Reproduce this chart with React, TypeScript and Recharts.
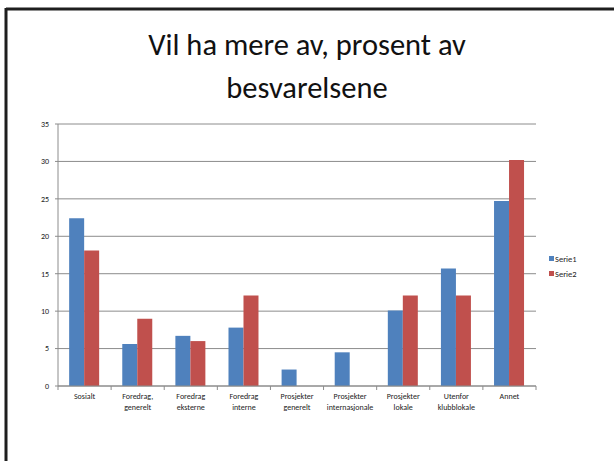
import React from 'react';
import { BarChart, Bar, XAxis, YAxis, CartesianGrid, Legend } from 'recharts';

const categories = [
  'Sosialt',
  'Foredrag, generelt',
  'Foredrag eksterne',
  'Foredrag interne',
  'Prosjekter generelt',
  'Prosjekter internasjonale',
  'Prosjekter lokale',
  'Utenfor klubblokale',
  'Annet',
];
const serie1 = [22.4, 5.6, 6.7, 7.8, 2.2, 4.5, 10.1, 15.7, 24.7];
const serie2 = [18.1, 9.0, 6.0, 12.1, 0, 0, 12.1, 12.1, 30.2];
const yTicks = [0, 5, 10, 15, 20, 25, 30, 35];

const data = categories.map((name, i) => ({ name, Serie1: serie1[i], Serie2: serie2[i] }));

const FONT = 'Carlito, Calibri, Lato, sans-serif';
const GRID = '#8c8c8c';
const PLOT_LEFT = 58;
const PLOT_RIGHT = 536;
const BAND = (PLOT_RIGHT - PLOT_LEFT) / categories.length;

const CategoryTick: React.FC<any> = ({ x, y, payload, index }) => {
  const label: string = payload.value;
  const cut = label.indexOf(' ');
  const lines = cut < 0 ? [label] : [label.slice(0, cut), label.slice(cut + 1)];
  const left = x - BAND / 2;
  return (
    <g>
      <line x1={left} y1={y} x2={left} y2={y + 4} stroke={GRID} />
      {index === categories.length - 1 && (
        <line x1={x + BAND / 2} y1={y} x2={x + BAND / 2} y2={y + 4} stroke={GRID} />
      )}
      {lines.map((ln, i) => (
        <text key={i} x={x} y={y + 12.5 + i * 11} textAnchor="middle" fontSize={8} fill="#222" fontFamily={FONT}>
          {ln}
        </text>
      ))}
    </g>
  );
};

const LegendBox: React.FC<any> = ({ payload }) => (
  <div style={{ fontFamily: FONT, fontSize: 8.5, color: '#222' }}>
    {(payload || []).map((p: any) => (
      <div key={p.value} style={{ display: 'flex', alignItems: 'center', height: 15 }}>
        <span style={{ display: 'inline-block', width: 5, height: 5, background: p.color, marginRight: 1 }} />
        {p.value}
      </div>
    ))}
  </div>
);

export default function App() {
  return (
    <div style={{ position: 'fixed', left: 0, top: 0, width: 614, height: 461, overflow: 'hidden', background: '#fff' }}>
      <div style={{ position: 'absolute', left: 0, top: 0 }}>
        <BarChart
          width={614}
          height={461}
          data={data}
          margin={{ top: 124, right: 614 - PLOT_RIGHT, bottom: 45, left: 0 }}
          barGap={0}
          barCategoryGap="21%"
        >
          <CartesianGrid vertical={false} stroke={GRID} />
          <XAxis
            dataKey="name"
            height={30}
            interval={0}
            tickLine={false}
            tickSize={0}
            tickMargin={0}
            axisLine={{ stroke: GRID }}
            tick={<CategoryTick />}
          />
          <YAxis
            width={PLOT_LEFT}
            domain={[0, 35]}
            ticks={yTicks}
            interval={0}
            tickSize={3}
            tickMargin={6}
            axisLine={{ stroke: GRID }}
            tickLine={{ stroke: GRID }}
            tick={{ fontSize: 8, fill: '#222', fontFamily: FONT }}
          />
          <Legend
            layout="vertical"
            align="center"
            verticalAlign="middle"
            wrapperStyle={{ left: 549, top: 251, width: 40 }}
            content={<LegendBox />}
          />
          <Bar dataKey="Serie1" fill="#4F81BD" isAnimationActive={false} />
          <Bar dataKey="Serie2" fill="#C0504D" isAnimationActive={false} />
        </BarChart>
      </div>
      <svg width={614} height={461} style={{ position: 'absolute', left: 0, top: 0, pointerEvents: 'none' }}>
        <line x1={6} y1={9} x2={614} y2={9} stroke="#1e1e1e" strokeWidth={3} />
        <line x1={6} y1={8} x2={6} y2={461} stroke="#1e1e1e" strokeWidth={3} />
        <text x={307} y={55} textAnchor="middle" fontSize={30.5} fontFamily={FONT} fill="#111">
          Vil ha mere av, prosent av
        </text>
        <text x={307} y={98} textAnchor="middle" fontSize={30.5} fontFamily={FONT} fill="#111">
          besvarelsene
        </text>
      </svg>
    </div>
  );
}
